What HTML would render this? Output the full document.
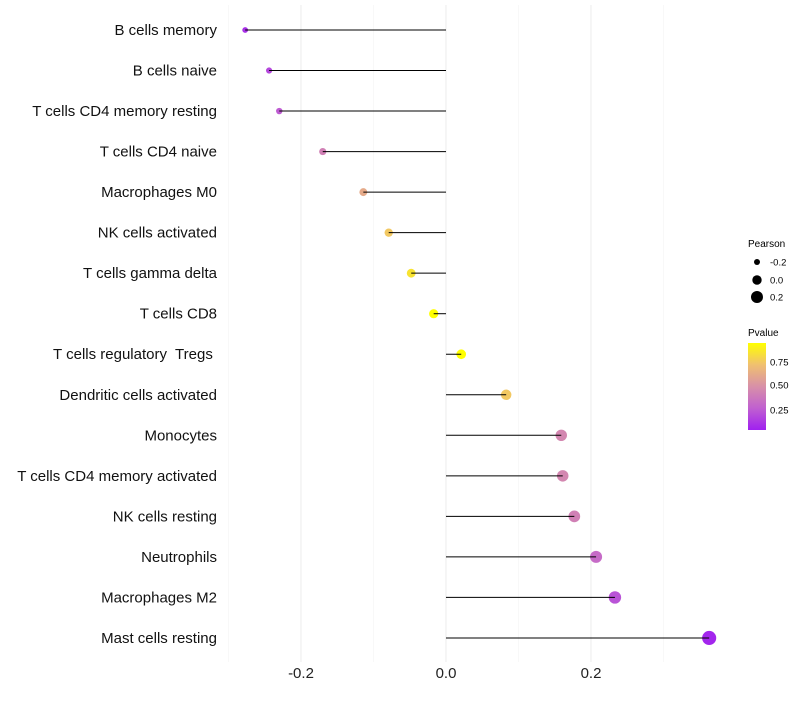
<!DOCTYPE html>
<html><head><meta charset="utf-8"><style>
body{margin:0;background:#fff;font-family:"Liberation Sans",sans-serif}
text{white-space:pre}
</style></head><body>
<svg id="chart" width="800" height="700" xmlns="http://www.w3.org/2000/svg">
<defs><linearGradient id="pg" x1="0" y1="1" x2="0" y2="0">
<stop offset="0" stop-color="#a020f0"/><stop offset="0.25" stop-color="#c060d0"/><stop offset="0.5" stop-color="#d890a8"/><stop offset="0.75" stop-color="#f0c070"/><stop offset="1" stop-color="#ffff00"/></linearGradient></defs>
<g id="grid"></g>
<g id="dots"></g>
<g id="marks"></g>
<g id="labels"></g>
<g id="xt"></g>
<g font-size="9.5">
<text x="748" y="247" font-size="10">Pearson</text>
<circle cx="757" cy="262" r="3" fill="#000"/><text x="770" y="265.5">-0.2</text>
<circle cx="757" cy="280" r="4.7" fill="#000"/><text x="770" y="283.5">0.0</text>
<circle cx="757" cy="297" r="6" fill="#000"/><text x="770" y="300.5">0.2</text>
</g>
<g font-size="9.5">
<text x="748" y="336" font-size="10">Pvalue</text>
<rect x="748" y="343" width="18" height="87" fill="url(#pg)"/>
<text x="770" y="365.5">0.75</text>
<text x="770" y="388.5">0.50</text>
<text x="770" y="413.5">0.25</text>
</g>
</svg>
<script>
const categories=["B cells memory","B cells naive","T cells CD4 memory resting","T cells CD4 naive","Macrophages M0","NK cells activated","T cells gamma delta","T cells CD8","T cells regulatory  Tregs ","Dendritic cells activated","Monocytes","T cells CD4 memory activated","NK cells resting","Neutrophils","Macrophages M2","Mast cells resting"];
const pearson=[-0.277,-0.244,-0.230,-0.170,-0.114,-0.079,-0.048,-0.017,0.021,0.083,0.159,0.161,0.177,0.207,0.233,0.363];
const pvalue=[0.1,0.18,0.25,0.42,0.62,0.75,0.85,0.95,0.97,0.75,0.45,0.45,0.42,0.32,0.22,0.06];
const xticks=[-0.2,0,0.2];
const xtickLabels=["-0.2","0.0","0.2"];
const xminor=[-0.3,-0.1,0.1,0.3];
const NS="http://www.w3.org/2000/svg";
const X=v=>446+v*725;
const Y=i=>30+i*40.53;
const R=v=>4.7+v*6.5;
const stops=[[0,[160,32,240]],[0.25,[192,96,208]],[0.5,[216,144,168]],[0.75,[240,192,112]],[1,[255,255,0]]];
function col(p){let t=Math.max(0,Math.min(1,(p-0.04)/0.91));for(let k=0;k<stops.length-1;k++){const a=stops[k],b=stops[k+1];if(t<=b[0]){const f=(t-a[0])/(b[0]-a[0]);return "rgb("+a[1].map((c,j)=>Math.round(c+(b[1][j]-c)*f)).join(",")+")";}}return "rgb(255,255,0)";}
function mk(tag,attrs,parent){const e=document.createElementNS(NS,tag);for(const k in attrs)e.setAttribute(k,attrs[k]);document.getElementById(parent).appendChild(e);return e;}
xminor.forEach(v=>{const l=mk("line",{x1:X(v),x2:X(v),y1:5,y2:662,stroke:"#f3f3f3","stroke-width":0.6},"grid");

});
xticks.forEach((v,i)=>{const l=mk("line",{x1:X(v),x2:X(v),y1:5,y2:662,stroke:"#ededed","stroke-width":1.1},"grid");


const t=mk("text",{x:X(v),y:678,"text-anchor":"middle","font-size":15,fill:"#222"},"xt");t.textContent=xtickLabels[i];

});
categories.forEach((c,i)=>{const y=Y(i);
const t=mk("text",{x:217,y:y+5,"text-anchor":"end","font-size":15,fill:"#111"},"labels");t.textContent=c;


const d=mk("circle",{cx:X(pearson[i]),cy:y,r:Math.max(1.5,R(pearson[i])),fill:col(pvalue[i])},"dots");


const l=mk("line",{x1:X(0),x2:X(pearson[i]),y1:y,y2:y,stroke:"#000","stroke-width":1},"marks");

});
</script>
</body></html>
